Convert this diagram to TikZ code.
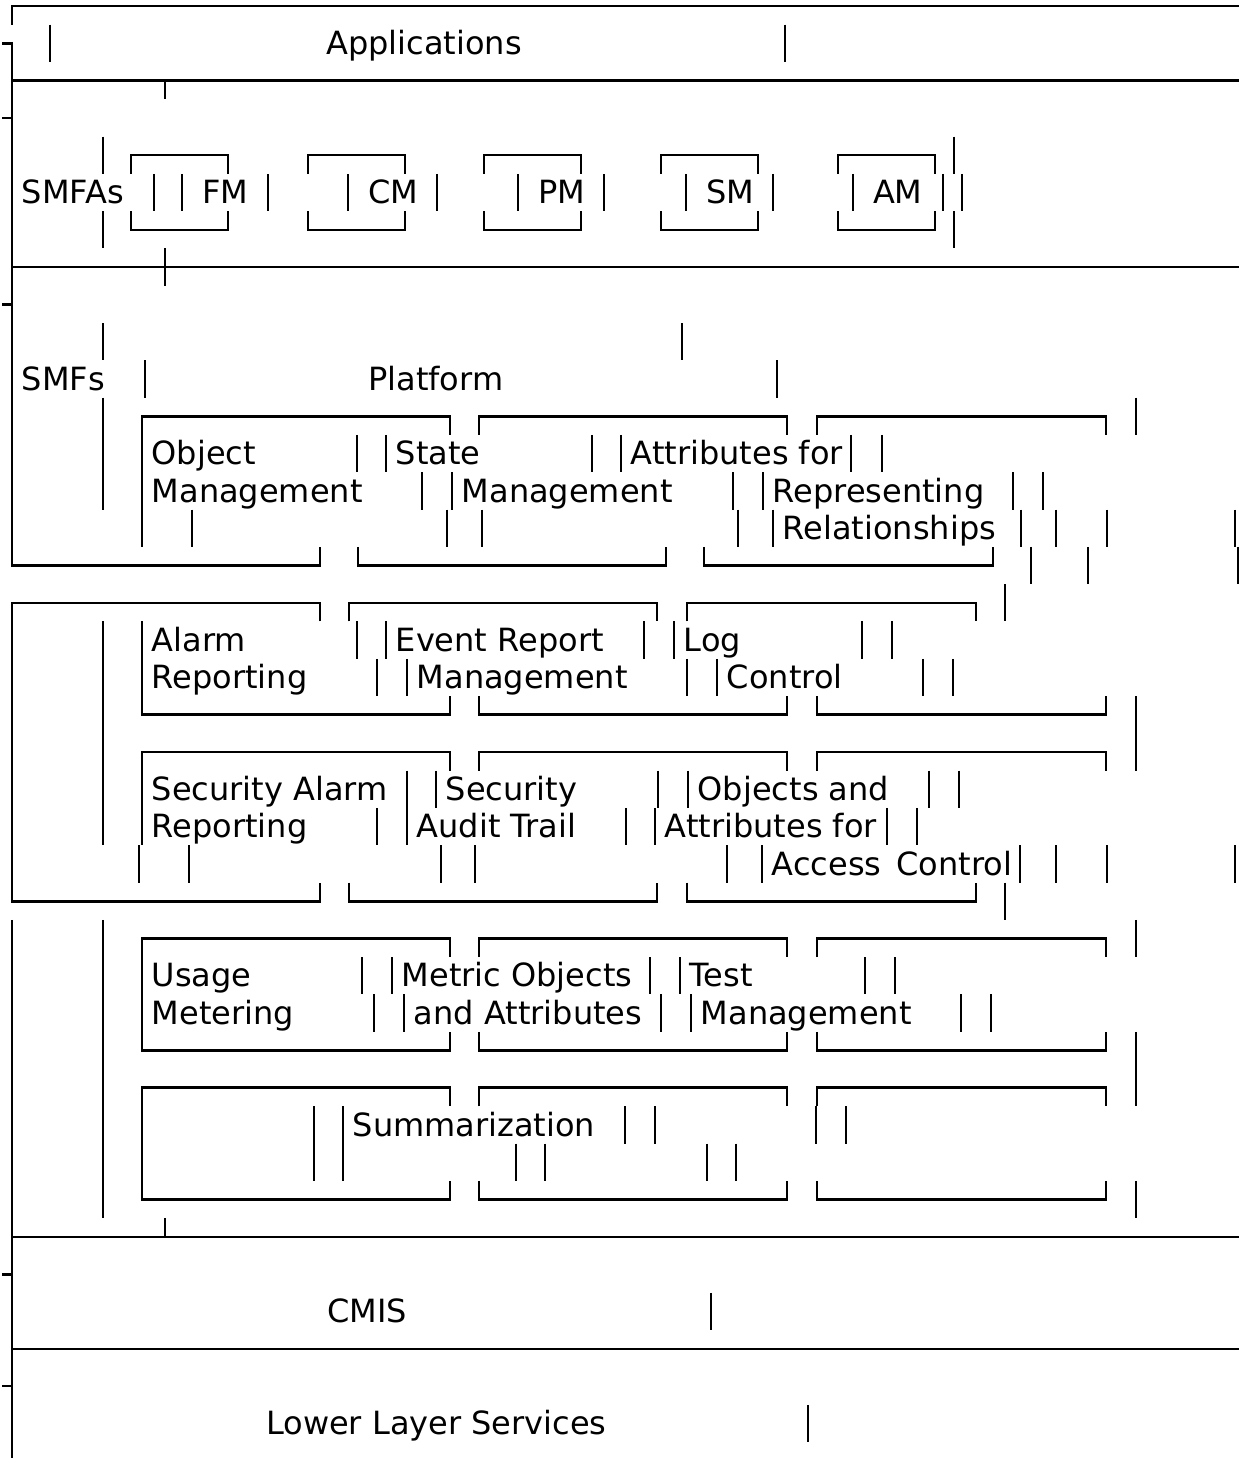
\documentclass[tikz,border=0pt]{standalone}
\usepackage{fontspec}
\setmainfont{DejaVu Sans}

% one text row is 37.3 high, row r is centred at 6+37.3r
\newcommand{\glyphbars}[2]{%
  \foreach \bx in {#2}{\draw[glyph] (\bx,{37.3*#1-12.65}) -- (\bx,{37.3*#1+24.65});}}
\newcommand{\lidtop}[3]{%
  \draw[glyph] (#1,{37.3*#3+24.65}) -- (#1,{37.3*#3+6}) -- (#2,{37.3*#3+6}) -- (#2,{37.3*#3+24.65});}
\newcommand{\lidbot}[3]{%
  \draw[glyph] (#1,{37.3*#3-12.65}) -- (#1,{37.3*#3+6}) -- (#2,{37.3*#3+6}) -- (#2,{37.3*#3-12.65});}
\newcommand{\lbl}[4]{\node[lbl] (#1) at (#2,{37.3*#3+17.1}) {#4};}

\begin{document}
\begin{tikzpicture}[
        x=1pt, y=-1pt,
        glyph/.style={line width=2.6pt, line join=miter},
        lbl/.style={anchor=base west, inner sep=0pt, font=\fontsize{32}{37.3}\selectfont}
    ]
        \useasboundingbox (0,0) rectangle (1239,1458);

        % Outer frame and layer rules
        \draw[glyph] (12,24.65) -- (12,6) -- (1239,6);
        \draw[glyph] (2.4,43.3) -- (12,43.3) -- (12,565.5) -- (320,565.5) -- (320,546.85);
        \draw[glyph] (320,621.45) -- (320,602.8) -- (12,602.8) -- (12,901.2) -- (320,901.2) -- (320,882.55);
        \draw[glyph] (12,919.85) -- (12,1458);
        \foreach \r in {2,7,33,36} \draw[glyph] (12,{37.3*\r+6}) -- (1239,{37.3*\r+6});
        \foreach \r in {3,8,34,37} \draw[glyph] (2.4,{37.3*\r+6}) -- (12,{37.3*\r+6});
        \draw[glyph] (165,80.6) -- (165,99.25);
        \glyphbars{7}{165}
        \draw[glyph] (165,1218.25) -- (165,1236.9);

        % Applications
        \glyphbars{1}{50,785}
        \lbl{apps}{326}{1}{Applications}

        % SMFAs
        \foreach \a/\b in {131/228,308/405,484/581,661/758,838/935}{
            \lidtop{\a}{\b}{4}
            \lidbot{\a}{\b}{6}
        }
        \glyphbars{4}{103,954}
        \glyphbars{6}{103,954}
        \glyphbars{5}{154,182,268,348,437,518,604,686,773,853,943,962}
        \lbl{smfas}{21.7}{5}{SMFAs}
        \lbl{fm}{201.8}{5}{FM}
        \lbl{cm}{367.8}{5}{CM}
        \lbl{pm}{537.8}{5}{PM}
        \lbl{sm}{705.8}{5}{SM}
        \lbl{am}{872.8}{5}{AM}

        % SMFs and Platform
        \glyphbars{9}{103,682}
        \glyphbars{10}{145,777}
        \lbl{smfs}{21.7}{10}{SMFs}
        \lbl{platform}{368}{10}{Platform}

        % Functions, three per row
        \foreach \a/\b in {142/450,479/787,817/1106}{
            \lidtop{\a}{\b}{11}
            \lidbot{\a}{\b}{19}
            \lidtop{\a}{\b}{20}
            \lidbot{\a}{\b}{28}
            \lidtop{\a}{\b}{25}
            \lidtop{\a}{\b}{29}
            \lidbot{\a}{\b}{32}
        }
        \lidbot{358}{666}{15}
        \lidbot{704}{993}{15}
        \foreach \a/\b in {349/657,687/976}{
            \lidtop{\a}{\b}{16}
            \lidbot{\a}{\b}{24}
        }
        \foreach \r in {11,19,20,25,28,29,32}{\glyphbars{\r}{103,1136}}

        \glyphbars{12}{103,142,357,386,592,621,851,882}
        \glyphbars{13}{103,142,422,452,733,763,1013,1043}
        \glyphbars{14}{142,192,447,482,738,773,1021,1056,1107,1235}
        \glyphbars{15}{1031,1088,1238}
        \glyphbars{16}{1005}
        \lbl{objm}{151.6}{12}{Object}
        \lbl{objm2}{151.6}{13}{Management}
        \lbl{statem}{395.6}{12}{State}
        \lbl{statem2}{461.6}{13}{Management}
        \lbl{relat}{630.6}{12}{Attributes for}
        \lbl{relat2}{772.6}{13}{Representing}
        \lbl{relat3}{782.6}{14}{Relationships}

        \glyphbars{17}{103,142,357,386,644,674,862,892}
        \glyphbars{18}{103,142,377,407,687,717,923,953}
        \lbl{alarm}{151.6}{17}{Alarm}
        \lbl{alarm2}{151.6}{18}{Reporting}
        \lbl{event}{395.6}{17}{Event Report}
        \lbl{event2}{416.6}{18}{Management}
        \lbl{logc}{683.6}{17}{Log}
        \lbl{logc2}{726.6}{18}{Control}

        \glyphbars{21}{103,142,407,436,658,688,929,959}
        \glyphbars{22}{103,142,377,407,626,655,887,917}
        \glyphbars{23}{139,189,441,475,727,762,1020,1056,1107,1235}
        \glyphbars{24}{1005}
        \lbl{secal}{151.6}{21}{Security Alarm}
        \lbl{secal2}{151.6}{22}{Reporting}
        \lbl{audit}{445.6}{21}{Security}
        \lbl{audit2}{416.6}{22}{Audit Trail}
        \lbl{access}{697.6}{21}{Objects and}
        \lbl{access2}{664.6}{22}{Attributes for}
        \lbl{access3}{771.6}{23}{Access\hspace{15pt}Control}

        \glyphbars{26}{103,142,362,392,650,680,865,895}
        \glyphbars{27}{103,142,374,404,661,691,961,991}
        \lbl{usage}{151.6}{26}{Usage}
        \lbl{usage2}{151.6}{27}{Metering}
        \lbl{metric}{401.6}{26}{Metric Objects}
        \lbl{metric2}{413.6}{27}{and Attributes}
        \lbl{test}{689.6}{26}{Test}
        \lbl{test2}{700.6}{27}{Management}

        \glyphbars{30}{103,142,314,343,625,655,816,846}
        \glyphbars{31}{103,142,314,343,516,545,707,736}
        \lbl{summ}{352.6}{30}{Summarization}

        % CMIS and lower layers
        \glyphbars{35}{711}
        \lbl{cmis}{327}{35}{CMIS}
        \glyphbars{38}{808}
        \lbl{lower}{266}{38}{Lower Layer Services}
    \end{tikzpicture}
\end{document}
